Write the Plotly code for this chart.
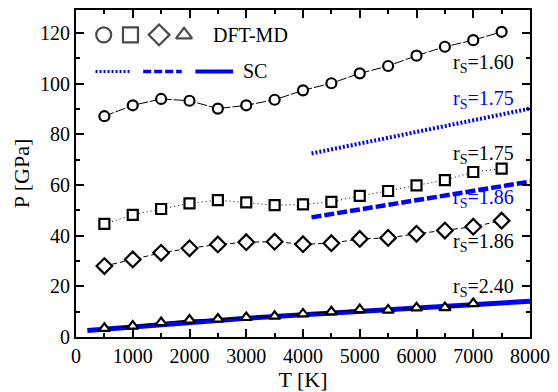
import plotly.graph_objects as go

# ---- data ----
T_md = [500, 1000, 1500, 2000, 2500, 3000, 3500, 4000, 4500, 5000, 5500, 6000, 6500, 7000, 7500]
P_rs160 = [87.1, 91.4, 93.9, 93.2, 90.1, 91.4, 93.6, 97.3, 100.1, 104.0, 106.9, 111.0, 114.5, 117.1, 120.4]
P_rs175 = [44.6, 48.2, 50.5, 52.7, 54.0, 53.1, 52.0, 52.3, 53.3, 55.7, 57.6, 59.8, 61.9, 65.1, 66.4]
P_rs186 = [28.0, 30.6, 33.2, 35.0, 36.5, 37.4, 37.6, 36.6, 37.0, 38.7, 39.1, 40.7, 42.0, 43.5, 45.9]
T_md240 = [500, 1000, 1500, 2000, 2500, 3000, 3500, 4000, 4500, 5000, 5500, 6000, 6500, 7000]
P_rs240 = [3.4, 4.3, 5.7, 6.7, 7.1, 7.7, 8.2, 9.1, 9.9, 10.8, 10.6, 11.5, 11.6, 13.2]

# self-consistent (SC) model curves
T_sc175 = [4150, 8000]
P_sc175 = [72.4, 90.1]
T_sc186 = [4150, 8000]
P_sc186 = [47.2, 61.3]
T_sc240 = [200, 1000, 2000, 3000, 4000, 5000, 6000, 7000, 8000]
P_sc240 = [2.6, 4.1, 5.9, 7.4, 8.8, 10.2, 11.5, 12.8, 14.1]

# curve labels: (T, P, text, colour)
labels = [
    (7760, 107.8, "r<sub>S</sub>=1.60", "black"),
    (7760, 93.7, "r<sub>S</sub>=1.75", "blue"),
    (7760, 72.0, "r<sub>S</sub>=1.75", "black"),
    (7760, 54.5, "r<sub>S</sub>=1.86", "blue"),
    (7760, 37.3, "r<sub>S</sub>=1.86", "black"),
    (7760, 19.6, "r<sub>S</sub>=2.40", "black"),
]

FONT = "Liberation Serif"
BLUE = "#0000ff"

fig = go.Figure()

# SC lines
fig.add_trace(go.Scatter(x=T_sc175, y=P_sc175, mode="lines",
                         line=dict(color=BLUE, width=4, dash="2px,2px")))
fig.add_trace(go.Scatter(x=T_sc186, y=P_sc186, mode="lines",
                         line=dict(color=BLUE, width=4.5, dash="10px,3px")))
fig.add_trace(go.Scatter(x=T_sc240, y=P_sc240, mode="lines",
                         line=dict(color=BLUE, width=5)))

# DFT-MD points
mk = dict(color="white", size=10, line=dict(color="black", width=2.2))
fig.add_trace(go.Scatter(x=T_md, y=P_rs160, mode="lines+markers",
                         line=dict(color="black", width=1, dash="10px,2px"),
                         marker=dict(symbol="circle", **mk)))
fig.add_trace(go.Scatter(x=T_md, y=P_rs175, mode="lines+markers",
                         line=dict(color="black", width=1, dash="1px,3px"),
                         marker=dict(symbol="square", **mk)))
fig.add_trace(go.Scatter(x=T_md, y=P_rs186, mode="lines+markers",
                         line=dict(color="black", width=1, dash="5px,3px"),
                         marker=dict(symbol="diamond", color="white", size=12,
                                     line=dict(color="black", width=2.2))))
fig.add_trace(go.Scatter(x=T_md240, y=P_rs240, mode="lines+markers",
                         line=dict(color="black", width=1),
                         marker=dict(symbol="triangle-up", **mk)))

# legend glyphs on an overlay axis in plot-fraction units
fig.add_trace(go.Scatter(
    x=[0.061, 0.120, 0.183, 0.238], y=[0.924] * 4, mode="markers",
    xaxis="x2", yaxis="y2",
    marker=dict(symbol=["circle", "square", "diamond", "triangle-up"],
                size=[15, 15, 16, 14], color="white",
                line=dict(color="black", width=2.2))))

for x0, x1, w, d in [(0.043, 0.120, 3, "2px,2px"), (0.148, 0.233, 3.5, "8px,3px"),
                     (0.263, 0.346, 4, "solid")]:
    fig.add_trace(go.Scatter(x=[x0, x1], y=[0.812, 0.812], mode="lines",
                             xaxis="x2", yaxis="y2",
                             line=dict(color=BLUE, width=w, dash=d)))

annos = [
    dict(x=0.298, y=0.924, xref="x2", yref="y2", text="DFT-MD", showarrow=False,
         xanchor="left", yanchor="middle", font=dict(family=FONT, size=20, color="black")),
    dict(x=0.363, y=0.812, xref="x2", yref="y2", text="SC", showarrow=False,
         xanchor="left", yanchor="middle", font=dict(family=FONT, size=20, color="black")),
]
for t, p, txt, c in labels:
    annos.append(dict(x=t, y=p, xref="x", yref="y", text=txt, showarrow=False,
                      xanchor="right", yanchor="middle",
                      font=dict(family=FONT, size=20, color=c)))

axis_common = dict(showline=True, linecolor="black", linewidth=2, mirror="ticks",
                   ticks="inside", ticklen=8, tickwidth=2, tickcolor="black",
                   showgrid=False, zeroline=False,
                   tickfont=dict(family=FONT, size=20, color="black"))

fig.update_layout(
    width=558, height=392,
    margin=dict(l=76, r=22, t=8, b=55),
    paper_bgcolor="white", plot_bgcolor="white",
    showlegend=False,
    annotations=annos,
    xaxis=dict(range=[0, 8000], tickvals=[0, 1000, 2000, 3000, 4000, 5000, 6000, 7000, 8000],
               minor=dict(dtick=500, ticks="inside", ticklen=4, tickwidth=2, tickcolor="black"),
               title=dict(text="T [K]", font=dict(family=FONT, size=22, color="black"), standoff=2),
               **axis_common),
    yaxis=dict(range=[0, 129], tickvals=[0, 20, 40, 60, 80, 100, 120],
               minor=dict(dtick=10, ticks="inside", ticklen=4, tickwidth=2, tickcolor="black"),
               title=dict(text="P [GPa]", font=dict(family=FONT, size=22, color="black"), standoff=4),
               **axis_common),
    xaxis2=dict(overlaying="x", range=[0, 1], visible=False, fixedrange=True),
    yaxis2=dict(overlaying="y", range=[0, 1], visible=False, fixedrange=True),
)

fig.write_html("out.html")
